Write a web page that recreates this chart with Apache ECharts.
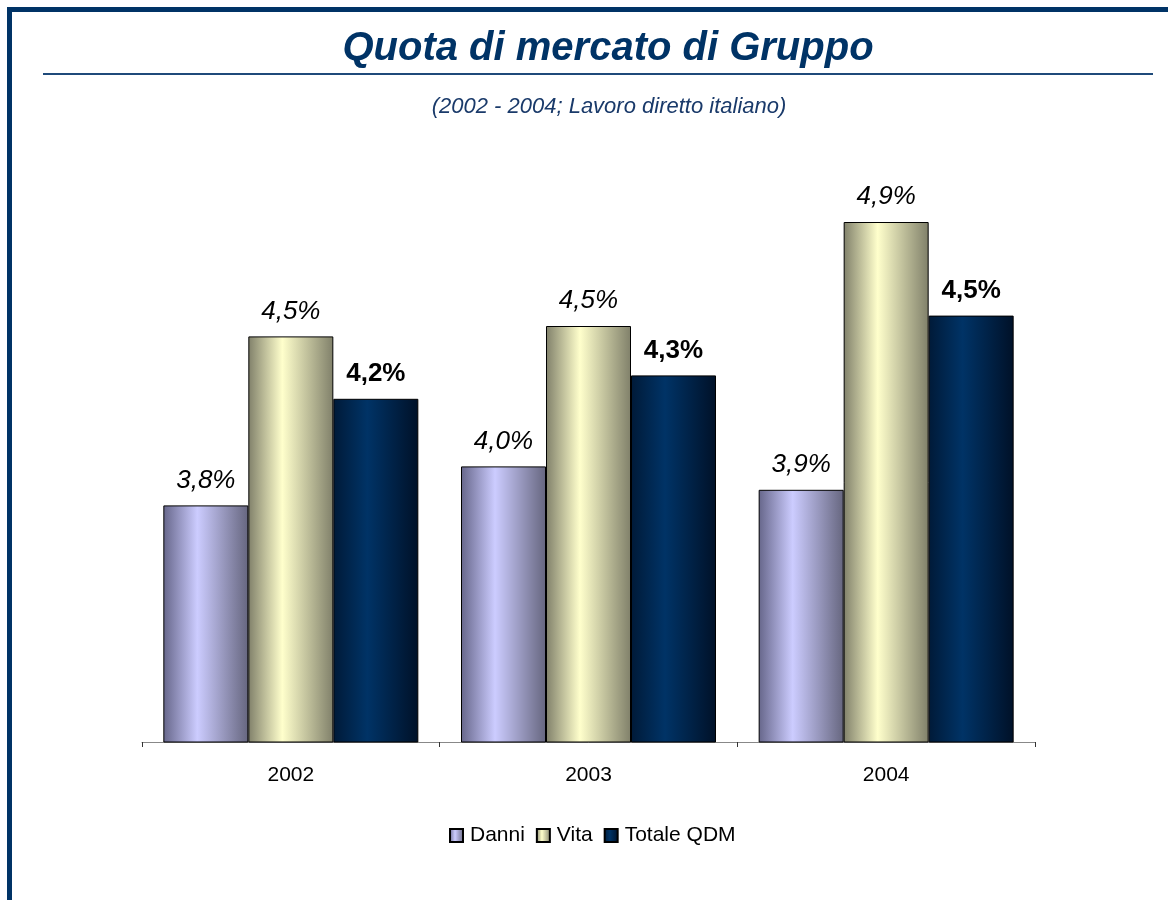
<!DOCTYPE html>
<html>
<head>
<meta charset="utf-8">
<style>
html,body{margin:0;padding:0;background:#fff;}
#chart{width:1168px;height:900px;}
</style>
<script src="https://cdn.jsdelivr.net/npm/echarts@6/dist/echarts.min.js"></script>
</head>
<body>
<div id="chart"></div>
<script>
var categories = ['2002', '2003', '2004'];
var danni = [3.81, 3.96, 3.87];
var vita = [4.46, 4.50, 4.90];
var totale = [4.22, 4.31, 4.54];
var seriesNames = ['Danni', 'Vita', 'Totale QDM'];
var titleText = 'Quota di mercato di Gruppo';
var subtitleText = '(2002 - 2004; Lavoro diretto italiano)';

var FONT = '"Liberation Sans", Arial, sans-serif';
var chart = echarts.init(document.getElementById('chart'), null, {renderer: 'canvas'});

function grad(c0, c1, c2) {
  return new echarts.graphic.LinearGradient(0, 0, 1, 0, [
    {offset: 0, color: c0},
    {offset: 0.4, color: c1},
    {offset: 1, color: c2}
  ]);
}
function fmt(p) { return p.value.toFixed(1).replace('.', ',') + '%'; }

var italicLabel = {show: true, position: 'top', distance: 12, formatter: fmt,
  fontFamily: FONT, fontSize: 26, fontStyle: 'italic', color: '#000'};
var boldLabel = {show: true, position: 'top', distance: 12, formatter: fmt,
  fontFamily: FONT, fontSize: 26, fontWeight: 'bold', color: '#000'};

var option = {
  backgroundColor: '#fff',
  animation: false,
  title: [
    {text: titleText, left: 603, top: 24, textAlign: 'center',
     textStyle: {fontFamily: FONT, fontSize: 40, fontWeight: 'bold', fontStyle: 'italic', color: '#003366'}},
    {text: subtitleText, left: 604, top: 91, textAlign: 'center',
     textStyle: {fontFamily: FONT, fontSize: 22, fontWeight: 'normal', fontStyle: 'italic', color: '#1a3a6a'}}
  ],
  graphic: [
    {type: 'rect', shape: {x: 7, y: 7, width: 1161, height: 5}, style: {fill: '#003366'}},
    {type: 'rect', shape: {x: 7, y: 7, width: 5, height: 893}, style: {fill: '#003366'}},
    {type: 'rect', shape: {x: 43, y: 73, width: 1110, height: 2}, style: {fill: '#1f4a7a'}}
  ],
  legend: {
    data: seriesNames, left: 444, top: 820, itemWidth: 13, itemHeight: 13, itemGap: 11,
    icon: 'rect',
    textStyle: {fontFamily: FONT, fontSize: 21, color: '#000', padding: [0, 0, 0, 2]}
  },
  grid: {left: 142, right: 133, bottom: 158, top: 92},
  xAxis: {
    type: 'category', data: categories,
    axisLine: {lineStyle: {color: '#888', width: 1}},
    axisTick: {show: true, length: 5, lineStyle: {color: '#333'}},
    axisLabel: {fontFamily: FONT, fontSize: 21, color: '#000', margin: 23}
  },
  yAxis: {type: 'value', min: 2.9, max: 5.4, show: false, splitLine: {show: false}},
  series: [
    {name: seriesNames[0], type: 'bar', data: danni, barWidth: 85, barGap: '0%',
     itemStyle: {color: grad('#66668a', '#ccccff', '#66667f'), borderColor: '#000', borderWidth: 1},
     label: italicLabel},
    {name: seriesNames[1], type: 'bar', data: vita, barWidth: 85, barGap: '0%',
     itemStyle: {color: grad('#80806a', '#ffffcc', '#80806a'), borderColor: '#000', borderWidth: 1},
     label: italicLabel},
    {name: seriesNames[2], type: 'bar', data: totale, barWidth: 85, barGap: '0%',
     itemStyle: {color: grad('#001a38', '#003366', '#001128'), borderColor: '#000', borderWidth: 1},
     label: boldLabel}
  ]
};
chart.setOption(option);
</script>
</body>
</html>
